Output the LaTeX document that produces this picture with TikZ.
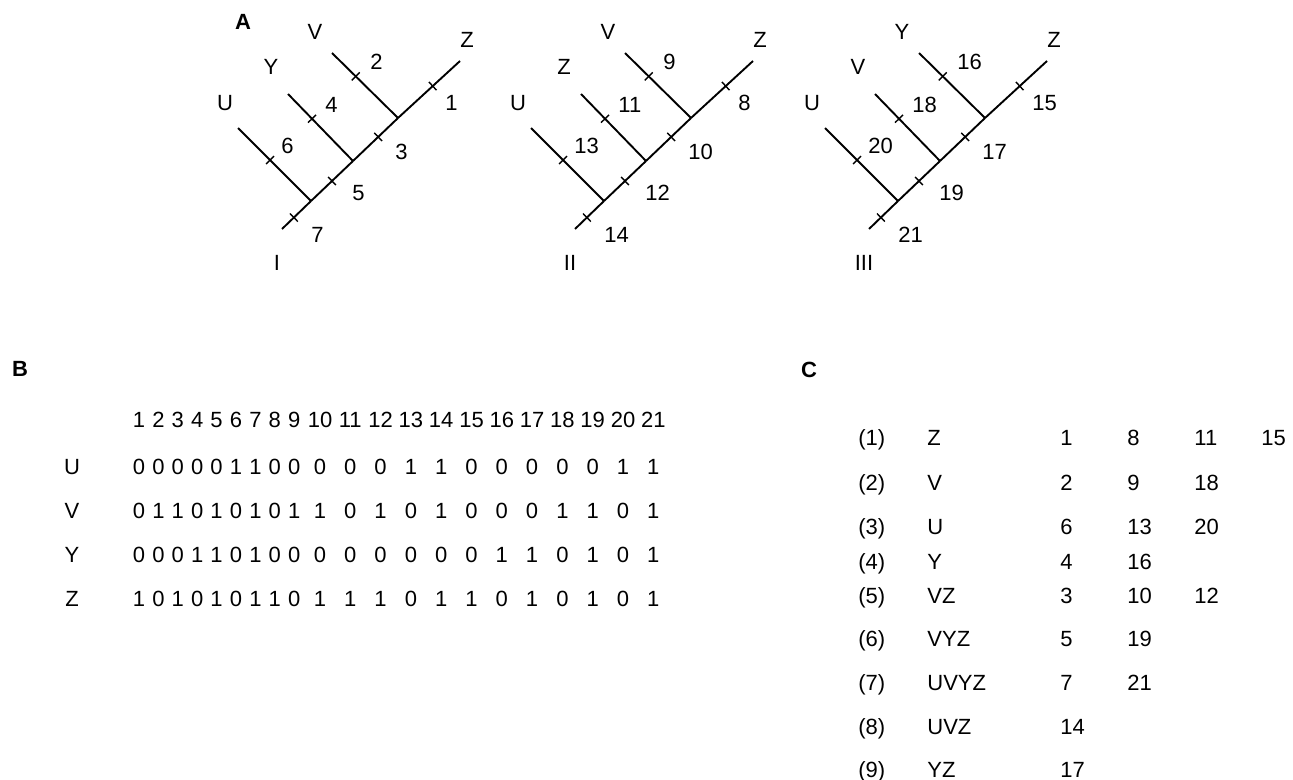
\documentclass[tikz,border=0pt]{standalone}
\usepackage{fontspec}
\setmainfont{Liberation Sans}
\usetikzlibrary{decorations.markings}
\tikzset{
  txt/.style={font=\fontsize{11}{13}\selectfont,inner sep=0pt,text depth=0pt},
  panel/.style={font=\fontsize{11}{13}\selectfont\bfseries,inner sep=0pt},
  branch/.style={line width=0.95pt},
  tk/.style={postaction={decorate},decoration={markings,
    mark=at position #1 with {\draw[line width=0.7pt] (0,-2.8pt)--(0,2.8pt);}}}
}

\begin{document}
\begin{tikzpicture}[x=0.5pt,y=-0.5pt]
  \useasboundingbox (0,0) rectangle (1293,780);
  \node[panel] (A) at (243,22) {A};
  \foreach \t/\ox/\rom/\la/\lb/\lc/\n in {1/282/I/U/Y/V/1,2/575/II/U/Z/V/8,3/869/III/U/V/Y/15}{
    \begin{scope}[shift={(\ox,229)}]
      \coordinate (root\t) at (0,0);
      \coordinate (ja\t) at (29,-28);
      \coordinate (jb\t) at (71,-68);
      \coordinate (jc\t) at (116,-111);
      \coordinate (top\t) at (178,-168);
      \coordinate (ua\t) at (-44,-101);
      \coordinate (ub\t) at (6,-135);
      \coordinate (uc\t) at (50,-176);
      \draw[branch,tk=0.41] (root\t) -- (ja\t);
      \draw[branch,tk=0.5] (ja\t) -- (jb\t);
      \draw[branch,tk=0.56] (jb\t) -- (jc\t);
      \draw[branch,tk=0.56] (jc\t) -- (top\t);
      \draw[branch,tk=0.44] (ua\t) -- (ja\t);
      \draw[branch,tk=0.37] (ub\t) -- (jb\t);
      \draw[branch,tk=0.36] (uc\t) -- (jc\t);
      \node[txt] (xa\t) at (-57,-126) {\la};
      \node[txt] (xb\t) at (-11,-162) {\lb};
      \node[txt] (xc\t) at (33,-197) {\lc};
      \node[txt] (xz\t) at (185,-189) {Z};
      \node[txt] (rom\t) at (-5,34) {\rom};
      \pgfmathtruncatemacro\nb{\n+1}
      \pgfmathtruncatemacro\nc{\n+2}
      \pgfmathtruncatemacro\nd{\n+3}
      \pgfmathtruncatemacro\ne{\n+4}
      \pgfmathtruncatemacro\nf{\n+5}
      \pgfmathtruncatemacro\ng{\n+6}
      \node[txt,anchor=west] (e\n) at (163,-126) {\n};
      \node[txt,anchor=west] (e\nb) at (88,-167) {\nb};
      \node[txt,anchor=west] (e\nc) at (113,-77) {\nc};
      \node[txt,anchor=west] (e\nd) at (43,-124) {\nd};
      \node[txt,anchor=west] (e\ne) at (70,-36) {\ne};
      \node[txt,anchor=west] (e\nf) at (-1,-83) {\nf};
      \node[txt,anchor=west] (e\ng) at (29,6) {\ng};
    \end{scope}
  }

  \node[panel] (B) at (20,369) {B};
  \foreach \i in {1,...,21}{
    \pgfmathsetmacro\hx{\i<10 ? 133+(\i-1)*19.4+6 : 308+(\i-10)*30.3+12}
    \node[txt] (h\i) at (\hx,420) {\i};
  }
  \foreach \r/\ry/\bits in {U/467/{0,0,0,0,0,1,1,0,0,0,0,0,1,1,0,0,0,0,0,1,1},
      V/511/{0,1,1,0,1,0,1,0,1,1,0,1,0,1,0,0,0,1,1,0,1},
      Y/555/{0,0,0,1,1,0,1,0,0,0,0,0,0,0,0,1,1,0,1,0,1},
      Z/599/{1,0,1,0,1,0,1,1,0,1,1,1,0,1,1,0,1,0,1,0,1}}{
    \node[txt] (r\r) at (72,\ry) {\r};
    \foreach \d [count=\i] in \bits
      \node[txt] (\r\i) at (h\i |- r\r) {\d};
  }

  \node[panel] (C) at (809,370) {C};
  \foreach \k/\cy/\sp/\nums in {1/438/Z/{1,8,11,15},2/483/V/{2,9,18},
      3/527/U/{6,13,20},4/562/Y/{4,16},5/596/VZ/{3,10,12},6/639/VYZ/{5,19},
      7/683/UVYZ/{7,21},8/727/UVZ/{14},9/770/YZ/{17}}{
    \node[txt,anchor=west] (k\k) at (858,\cy) {(\k)};
    \node[txt,anchor=west] (s\k) at (927,\cy) {\sp};
    \foreach \v [count=\j] in \nums
      \node[txt,anchor=west] (n\k-\j) at (993+67*\j,\cy) {\v};
  }
\end{tikzpicture}
\end{document}
